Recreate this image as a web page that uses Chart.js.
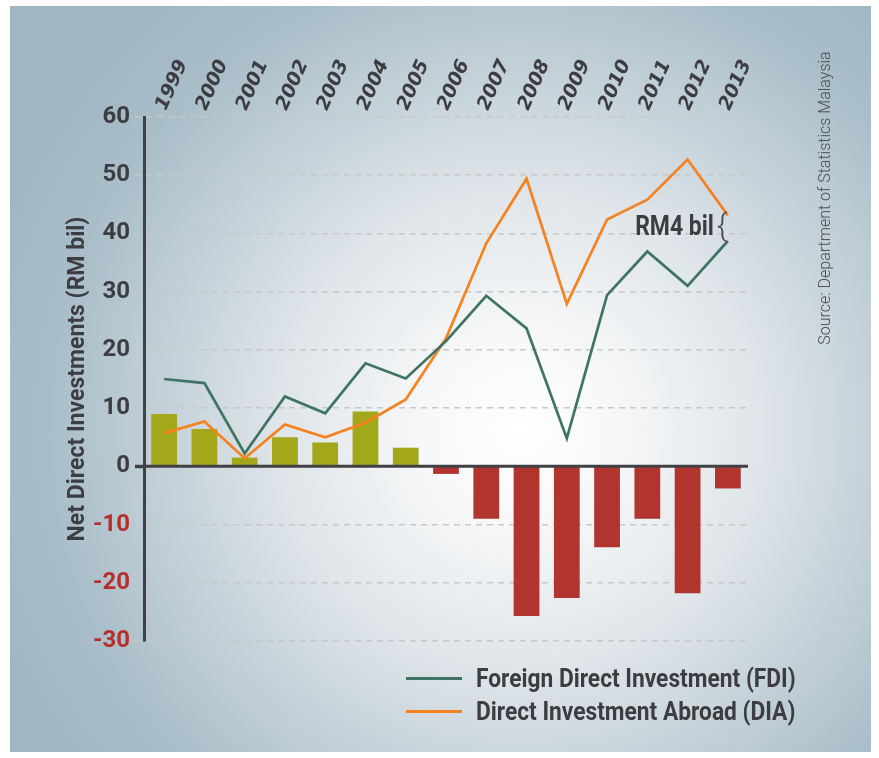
<!DOCTYPE html>
<html>
<head>
<meta charset="utf-8">
<title>Net Direct Investments</title>
<script src="https://cdn.jsdelivr.net/npm/chart.js@4.4.1/dist/chart.umd.min.js"></script>
<style>
  body { margin: 0; background: #ffffff; width: 879px; height: 758px; overflow: hidden; position: relative; }
  #panel {
    position: absolute; left: 10px; top: 6px; width: 861px; height: 746px;
    background: radial-gradient(circle at 510px 424px, #ffffff 0px, #f6f7f8 100px, #dfe5e9 240px, #c3d0d8 360px, #a9bec9 470px, #a0b6c3 560px);
  }
  #chart { position: absolute; left: 0; top: 0; }
  .source {
    position: absolute; left: 675px; top: 188px; width: 300px; height: 20px; line-height: 20px;
    text-align: center; font-family: Roboto, sans-serif; font-weight: 300; font-size: 16px; color: #4a4a4e;
    transform: rotate(-90deg);
  }
  .legend { position: absolute; left: 406px; top: 662px; }
  .legend .item { position: relative; height: 33px; }
  .legend .swatch { position: absolute; left: 0; top: 15px; width: 56px; height: 3px; }
  .legend .label {
    position: absolute; left: 70px; top: 0; white-space: nowrap;
    font-family: Roboto, sans-serif; font-weight: 700; font-size: 25px; line-height: 33px; color: #3d3c40;
    transform: scaleX(0.91); transform-origin: left center;
  }
</style>
</head>
<body>
<div id="panel"></div>
<canvas id="chart" width="879" height="758"></canvas>
<div class="source">Source: Department of Statistics Malaysia</div>
<div class="legend">
  <div class="item"><div class="swatch" style="background:#3f7363"></div><div class="label">Foreign Direct Investment (FDI)</div></div>
  <div class="item"><div class="swatch" style="background:#f5821f"></div><div class="label">Direct Investment Abroad (DIA)</div></div>
</div>
<script>
// values, RM billion
const years = ["1999", "2000", "2001", "2002", "2003", "2004", "2005", "2006",
  "2007", "2008", "2009", "2010", "2011", "2012", "2013"];
const fdiValues = [15.0, 14.3, 2.2, 12.0, 9.1, 17.7, 15.1, 21.5, 29.3, 23.7, 4.8, 29.4, 36.9, 31.0, 38.7];
const diaValues = [5.7, 7.7, 1.4, 7.2, 5.0, 7.5, 11.5, 22.0, 38.3, 49.4, 27.9, 42.4, 45.8, 52.7, 43.1];
const netValues = [9.0, 6.4, 1.5, 5.0, 4.1, 9.4, 3.2, -1.3, -9.0, -25.7, -22.6, -13.9, -9.0, -21.8, -3.8];
const yTicks = [-30, -20, -10, 0, 10, 20, 30, 40, 50, 60];
const annotationText = "RM4 bil";

const DARK = "#3d3c40";
const RED = "#b5302c";

// zero line on top of the bars, plus the "RM4 bil {" note
const overlayPlugin = {
  id: "overlay",
  afterDatasetsDraw(chart) {
    const ctx = chart.ctx;
    const x = chart.scales.x;
    const y = chart.scales.y;
    const area = chart.chartArea;
    const y0 = y.getPixelForValue(0);

    ctx.save();
    ctx.strokeStyle = "#414044";
    ctx.lineWidth = 3;
    ctx.beginPath();
    ctx.moveTo(area.left - 9, y0);
    ctx.lineTo(area.right, y0);
    ctx.stroke();

    const last = years.length - 1;
    const bx = x.getPixelForValue(last) - 11;
    const by = y.getPixelForValue((fdiValues[last] + diaValues[last]) / 2);
    ctx.fillStyle = "#4a4a4e";
    ctx.font = "300 32px Roboto";
    ctx.textAlign = "left";
    ctx.textBaseline = "middle";
    ctx.fillText("{", bx, by);

    ctx.translate(bx - 3, by);
    ctx.scale(0.85, 1);
    ctx.fillStyle = DARK;
    ctx.font = "bold 27px Roboto";
    ctx.textAlign = "right";
    ctx.textBaseline = "middle";
    ctx.fillText(annotationText, 0, 0);
    ctx.restore();
  }
};

const ctx = document.getElementById("chart").getContext("2d");
new Chart(ctx, {
  type: "bar",
  data: {
    labels: years,
    datasets: [
      {
        type: "line",
        label: "Foreign Direct Investment (FDI)",
        data: fdiValues,
        borderColor: "#3f7363",
        borderWidth: 2.7,
        pointRadius: 0,
        tension: 0,
        order: 0
      },
      {
        type: "line",
        label: "Direct Investment Abroad (DIA)",
        data: diaValues,
        borderColor: "#f5821f",
        borderWidth: 2.7,
        pointRadius: 0,
        tension: 0,
        order: 1
      },
      {
        type: "bar",
        label: "Net",
        data: netValues,
        backgroundColor: netValues.map((v) => (v >= 0 ? "#a3a81a" : "#b1342f")),
        borderWidth: 0,
        categoryPercentage: 1,
        barPercentage: 0.64,
        order: 2
      }
    ]
  },
  options: {
    responsive: false,
    animation: false,
    layout: { padding: { left: 60, right: 131, top: 50, bottom: 117 } },
    plugins: {
      legend: { display: false },
      tooltip: { enabled: false }
    },
    scales: {
      x: {
        position: "top",
        offset: true,
        grid: { display: false, drawTicks: false },
        border: { display: false },
        ticks: {
          autoSkip: false,
          minRotation: 66,
          maxRotation: 66,
          padding: 3,
          labelOffset: 18,
          color: DARK,
          font: { family: "DejaVu Sans", size: 19, weight: "bold", style: "italic" }
        },
        afterFit(scale) { scale.height = 67; }
      },
      y: {
        min: yTicks[0],
        max: yTicks[yTicks.length - 1],
        afterBuildTicks(scale) { scale.ticks = yTicks.map((v) => ({ value: v })); },
        grid: {
          color: (c) => (c.tick && c.tick.value === 0 ? "rgba(0,0,0,0)" : "#c6c8ca"),
          lineWidth: 1.5,
          tickLength: 9,
          tickColor: (c) => (c.tick && c.tick.value === 0 ? "#414044" : "#c6c8ca"),
          tickWidth: (c) => (c.tick && c.tick.value === 0 ? 3 : 1.5),
          tickBorderDash: (c) => (c.tick && c.tick.value === 0 ? [] : [6, 5])
        },
        border: {
          display: true,
          color: "#414044",
          width: 3,
          dash: (c) => (c.tick && c.tick.value === 0 ? [] : [6, 5])
        },
        ticks: {
          padding: 5,
          color: (c) => (c.tick && c.tick.value < 0 ? RED : DARK),
          font: { family: "Roboto", size: 24, weight: "bold" }
        },
        title: {
          display: true,
          text: "Net Direct Investments (RM bil)",
          color: DARK,
          padding: { top: 4, bottom: 0 },
          font: { family: "Roboto", size: 23, weight: "bold" }
        },
        afterFit(scale) { scale.width = 84; }
      }
    }
  },
  plugins: [overlayPlugin]
});
</script>
</body>
</html>
